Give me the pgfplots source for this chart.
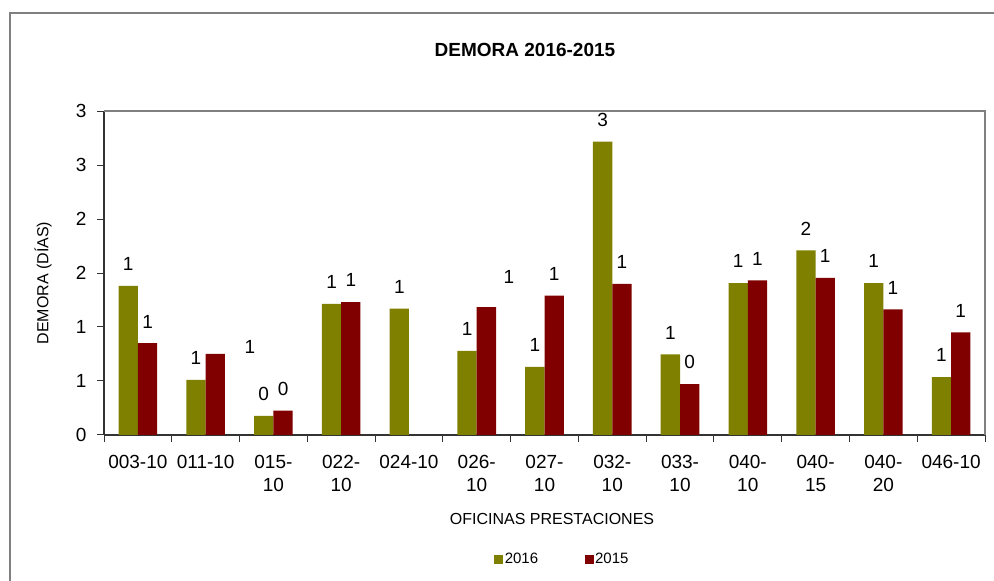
\documentclass[border=0pt]{standalone}
\usepackage{fontspec}
\setmainfont{Liberation Sans}
\usepackage{pgfplots}
\pgfplotsset{compat=1.18}
\definecolor{cGreen}{HTML}{808000}
\definecolor{cRed}{HTML}{800000}
\definecolor{frameGray}{HTML}{808080}
\begin{document}
\begin{tikzpicture}[x=1pt,y=1pt]
\useasboundingbox (0,0) rectangle (994,581);
\draw[frameGray, line width=1.3pt] (10,0) -- (10,568) -- (994,568);
\begin{axis}[
  at={(104pt,146pt)}, anchor=south west,
  width=881pt, height=324pt, scale only axis,
  ybar=0pt, bar width=19.3pt,
  xmin=-0.5, xmax=12.5, ymin=0, ymax=3,
  clip=false,
  axis x line*=bottom, axis y line*=left,
  axis line style={black!80, line width=1.2pt},
  tick align=outside,
  major tick length=7pt, minor tick length=7pt,
  tick style={black!80, line width=1pt},
  xtick={0,...,12},
  major x tick style={draw=none},
  minor xtick={-0.5,0.5,...,12.5},
  xticklabels={003-10,011-10,015-\\10,022-\\10,024-10,026-\\10,027-\\10,032-\\10,033-\\10,040-\\10,040-\\15,040-\\20,046-10},
  xticklabel style={align=center, font=\fontsize{19}{23}\selectfont, yshift=-10pt},
  ytick={0,0.5,...,3},
  yticklabels={0,1,1,2,2,3,3},
  yticklabel style={font=\fontsize{19}{22}\selectfont, xshift=-7pt},
  point meta=explicit symbolic,
  nodes near coords,
  every node near coord/.append style={font=\fontsize{19}{22}\selectfont, inner sep=0pt, anchor=south, yshift=15pt, black},
  legend style={at={(0.52,-0.383)}, anchor=center, draw=none, fill=none,
    font=\fontsize{15}{18}\selectfont, legend columns=2,
    /tikz/every even column/.append style={column sep=45pt},
    nodes={inner sep=1.5pt}},
  legend image code/.code={\fill[#1] (0pt,-4.5pt) rectangle (9pt,4.5pt);},
  after end axis/.code={
    \draw[frameGray, line width=1.2pt] (rel axis cs:0,1) -- (rel axis cs:1,1) -- (rel axis cs:1,0);
  },
]
\addplot[fill=cGreen, draw=none] coordinates {
  (0,1.38) [1] (1,0.51) [1] (2,0.176) [0] (3,1.213) [1] (4,1.17) [1]
  (5,0.778) [1] (6,0.63) [1] (7,2.716) [3] (8,0.747) [1] (9,1.407) [1]
  (10,1.71) [2] (11,1.407) [1] (12,0.537) [1]};
\addplot[fill=cRed, draw=none] coordinates {
  (0,0.85) [1] (1,0.75) [] (2,0.225) [0] (3,1.231) [1] (5,1.185) []
  (6,1.29) [1] (7,1.40) [1] (8,0.47) [0] (9,1.432) [1] (10,1.454) [1]
  (11,1.164) [1] (12,0.95) [1]};
\legend{2016,2015}
\node[font=\fontsize{19}{22}\selectfont] at (axis cs:1.654,0.815) {1};
\node[font=\fontsize{19}{22}\selectfont] at (axis cs:5.476,1.463) {1};
\end{axis}
\node[font=\bfseries\fontsize{19}{22}\selectfont] at (525,531) {DEMORA 2016-2015};
\node[rotate=90, font=\fontsize{16}{19}\selectfont] at (43,298) {DEMORA (DÍAS)};
\node[font=\fontsize{16}{19}\selectfont] at (552,62) {OFICINAS PRESTACIONES};
\end{tikzpicture}
\end{document}
